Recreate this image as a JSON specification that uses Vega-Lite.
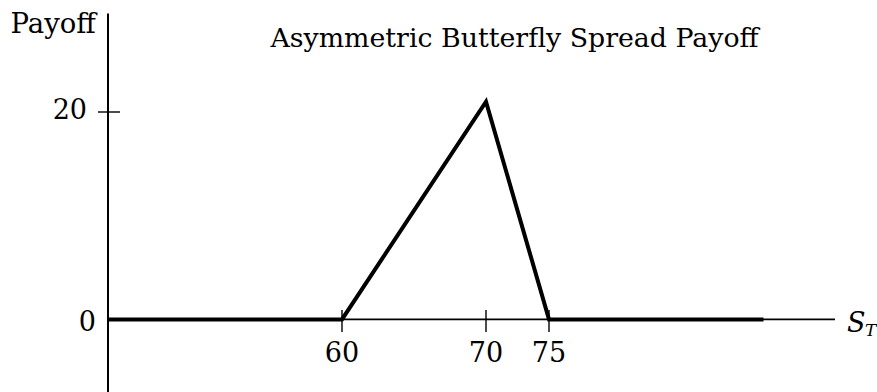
{
  "$schema": "https://vega.github.io/schema/vega-lite/v6.json",
  "autosize": "none",
  "width": 769,
  "height": 392,
  "padding": {"left": 108, "top": 0, "right": 0, "bottom": 0},
  "background": "white",
  "config": {"view": {"stroke": null}},
  "title": {
    "text": "Asymmetric Butterfly Spread Payoff",
    "font": "DejaVu Serif",
    "fontSize": 26.8,
    "fontWeight": "normal",
    "color": "black",
    "anchor": "middle",
    "frame": "group",
    "baseline": "alphabetic",
    "offset": 0,
    "dx": 22,
    "dy": 74
  },
  "datasets": {
    "payoff": [
      {"x": 40, "y": 0},
      {"x": 60, "y": 0},
      {"x": 70, "y": 21},
      {"x": 75, "y": 0},
      {"x": 90, "y": 0}
    ],
    "xaxis": [{"x": 40, "x2": 95, "y": 0}],
    "yaxis": [{"x": 40, "y": -7, "y2": 29.5}],
    "xticks": [
      {"x": 60, "y": 0, "label": "60"},
      {"x": 70, "y": 0, "label": "70"},
      {"x": 75, "y": 0, "label": "75"}
    ],
    "yticks": [{"x": 40, "y": 20, "label": "20"}],
    "yzero": [{"x": 40, "y": 0, "label": "0"}],
    "xtitle": [{"x": 95, "y": 0, "s": "S", "t": "T"}]
  },
  "encoding": {
    "x": {
      "field": "x",
      "type": "quantitative",
      "scale": {"domain": [40, 60, 70, 75, 95], "range": [0, 234, 378, 441, 727], "nice": false, "zero": false},
      "axis": null
    },
    "y": {
      "field": "y",
      "type": "quantitative",
      "scale": {"domain": [-7, 30.8], "nice": false, "zero": false},
      "axis": {
        "domain": false, "ticks": false, "labels": false, "grid": false,
        "title": "Payoff", "titleAngle": 0, "titleX": -98, "titleY": 32,
        "titleAlign": "left", "titleBaseline": "alphabetic",
        "titleFont": "DejaVu Serif", "titleFontSize": 27.5, "titleFontWeight": "normal", "titleColor": "black"
      }
    }
  },
  "layer": [
    {
      "data": {"name": "xaxis"},
      "mark": {"type": "rule", "color": "black", "strokeWidth": 1.6},
      "encoding": {"x2": {"field": "x2"}}
    },
    {
      "data": {"name": "yaxis"},
      "mark": {"type": "rule", "color": "black", "strokeWidth": 2},
      "encoding": {"y2": {"field": "y2"}}
    },
    {
      "data": {"name": "xticks"},
      "mark": {"type": "tick", "orient": "vertical", "color": "black", "size": 22, "thickness": 2, "yOffset": 1.5}
    },
    {
      "data": {"name": "yticks"},
      "mark": {"type": "tick", "orient": "horizontal", "color": "black", "size": 22, "thickness": 2, "xOffset": 1}
    },
    {
      "data": {"name": "payoff"},
      "mark": {"type": "line", "color": "black", "strokeWidth": 4, "strokeJoin": "miter", "strokeCap": "butt"},
      "encoding": {}
    },
    {
      "data": {"name": "xticks"},
      "mark": {"type": "text", "font": "DejaVu Serif", "fontSize": 27, "color": "black", "align": "center", "baseline": "alphabetic", "dy": 42.6},
      "encoding": {"text": {"field": "label"}}
    },
    {
      "data": {"name": "yticks"},
      "mark": {"type": "text", "font": "DejaVu Serif", "fontSize": 27, "color": "black", "align": "right", "baseline": "alphabetic", "dx": -21, "dy": 7},
      "encoding": {"text": {"field": "label"}}
    },
    {
      "data": {"name": "yzero"},
      "mark": {"type": "text", "font": "DejaVu Serif", "fontSize": 27, "color": "black", "align": "right", "baseline": "alphabetic", "dx": -12, "dy": 11.6},
      "encoding": {"text": {"field": "label"}}
    },
    {
      "data": {"name": "xtitle"},
      "mark": {"type": "text", "font": "DejaVu Serif", "fontSize": 27, "fontStyle": "italic", "color": "black", "align": "left", "baseline": "alphabetic", "dx": 12, "dy": 12.5},
      "encoding": {"text": {"field": "s"}}
    },
    {
      "data": {"name": "xtitle"},
      "mark": {"type": "text", "font": "DejaVu Serif", "fontSize": 17, "fontStyle": "italic", "color": "black", "align": "left", "baseline": "alphabetic", "dx": 30, "dy": 17},
      "encoding": {"text": {"field": "t"}}
    }
  ]
}
